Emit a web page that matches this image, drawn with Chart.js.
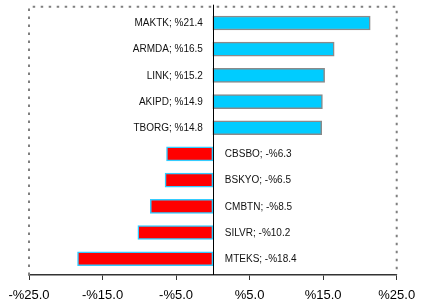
<!DOCTYPE html>
<html>
<head>
<meta charset="utf-8">
<script src="https://cdn.jsdelivr.net/npm/chart.js@4"></script>
<style>
  html, body { margin: 0; padding: 0; background: #fff; }
  canvas { display: block; }
</style>
</head>
<body>
<canvas id="chart" width="427" height="303"></canvas>
<script>
// top to bottom
const categories = ['MAKTK', 'ARMDA', 'LINK', 'AKIPD', 'TBORG', 'CBSBO', 'BSKYO', 'CMBTN', 'SILVR', 'MTEKS'];
const changes = [21.4, 16.5, 15.2, 14.9, 14.8, -6.3, -6.5, -8.5, -10.2, -18.4];
const xTicks = [-25, -15, -5, 5, 15, 25];

const pct = v => (v < 0 ? '-%' : '%') + Math.abs(v).toFixed(1);

const frame = {
  id: 'frame',
  afterDatasetsDraw(chart) {
    const { ctx, chartArea: a } = chart;
    const x0 = chart.scales.x.getPixelForValue(0);
    ctx.save();
    // dotted box
    ctx.strokeStyle = '#808080';
    ctx.lineWidth = 2;
    ctx.setLineDash([2.5, 5.5]);
    ctx.beginPath();
    ctx.moveTo(a.left, a.bottom);
    ctx.lineTo(a.left, a.top);
    ctx.lineTo(a.right, a.top);
    ctx.lineTo(a.right, a.bottom);
    ctx.stroke();
    // zero line
    ctx.setLineDash([]);
    ctx.strokeStyle = '#000';
    ctx.lineWidth = 1;
    ctx.beginPath();
    ctx.moveTo(Math.round(x0) + 0.5, a.top - 2);
    ctx.lineTo(Math.round(x0) + 0.5, a.bottom);
    ctx.stroke();

    // labels next to the zero line
    ctx.font = '10px "Liberation Sans", Arial, sans-serif';
    ctx.fillStyle = '#111';
    ctx.textBaseline = 'middle';
    chart.getDatasetMeta(0).data.forEach((bar, i) => {
      const v = changes[i];
      const txt = categories[i] + '; ' + pct(v);
      if (v >= 0) {
        ctx.textAlign = 'right';
        ctx.fillText(txt, x0 - 10, bar.y + 0.5);
      } else {
        ctx.textAlign = 'left';
        ctx.fillText(txt, x0 + 12, bar.y + 0.5);
      }
    });
    ctx.restore();
  }
};

new Chart(document.getElementById('chart'), {
  type: 'bar',
  data: {
    datasets: [{
      data: changes.map((v, i) => ({ x: v, y: i })),
      backgroundColor: changes.map(v => v >= 0 ? '#00CCFF' : '#FF0000'),
      borderColor: changes.map(v => v >= 0 ? '#8a8a8a' : '#33CCFF'),
      borderWidth: 1.5,
      borderSkipped: false,
      barThickness: 14
    }]
  },
  options: {
    indexAxis: 'y',
    responsive: false,
    animation: false,
    layout: { padding: { left: 29, right: 30.3, top: 6.7, bottom: 0 } },
    plugins: { legend: { display: false }, tooltip: { enabled: false } },
    scales: {
      x: {
        type: 'linear',
        min: -25,
        max: 25,
        afterBuildTicks: axis => { axis.ticks = xTicks.map(v => ({ value: v })); },
        afterFit: axis => { axis.height = 28; },
        border: { display: true, color: '#333', width: 1.5, dash: [4, 2] },
        grid: { drawOnChartArea: false, drawTicks: true, tickLength: 5, tickColor: '#333', tickWidth: 1 },
        ticks: {
          padding: 7.4,
          color: '#000',
          font: { family: '"Liberation Sans", Arial, sans-serif', size: 13 },
          maxRotation: 0,
          callback: v => pct(v)
        }
      },
      y: {
        type: 'linear',
        display: false,
        reverse: true,
        offset: false,
        grace: 0,
        min: -0.622,
        max: 9.622
      }
    }
  },
  plugins: [frame]
});
</script>
</body>
</html>
